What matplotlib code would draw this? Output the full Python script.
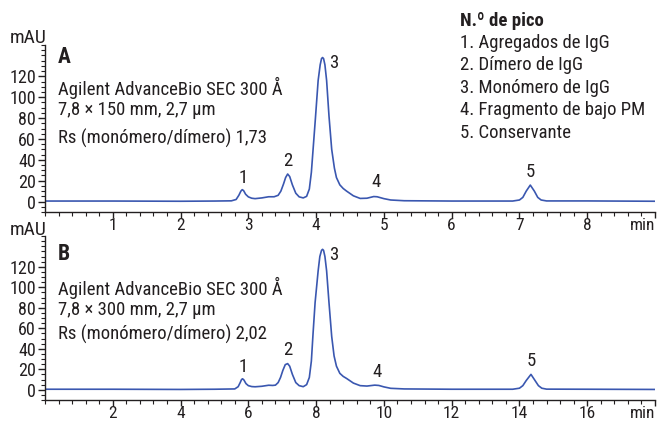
import matplotlib
matplotlib.use("Agg")
import matplotlib.pyplot as plt
from matplotlib.ticker import MultipleLocator, FixedLocator
from matplotlib import font_manager

# ---------------- data ----------------
time_a = [0.0, 1.0, 2.0, 2.5, 2.75, 2.82, 2.86, 2.89, 2.91, 2.93, 2.96, 3.0, 3.05, 3.1, 3.2, 3.3, 3.38,
          3.44, 3.48, 3.52, 3.55, 3.58, 3.61, 3.65, 3.7, 3.75, 3.81, 3.86, 3.9, 3.93, 3.96, 3.99, 4.03,
          4.06, 4.08, 4.095, 4.11, 4.13, 4.155, 4.19, 4.23, 4.27, 4.30, 4.35, 4.40, 4.45, 4.55, 4.65,
          4.75, 4.85, 4.9, 5.0, 5.1, 5.3, 6.0, 6.9, 7.0, 7.05, 7.1, 7.16, 7.22, 7.27, 7.32, 7.4, 8.0, 9.0]
abs_a = [0.5, 0.5, 0.3, 0.5, 0.7, 2, 6, 10, 11.4, 10.5, 7, 4.5, 3.2, 2.8, 3.5, 4.6, 4.6,
         6, 10, 17, 23, 26.4, 24, 16, 8, 4.5, 3.5, 5, 12, 28, 54, 80, 116,
         131, 137, 138, 137, 131, 116, 82, 50, 32, 23, 16, 12.5, 10, 5.5, 3,
         3.2, 4.8, 4.6, 2.8, 1.5, 0.8, 0.5, 0.5, 1.5, 4, 10, 15.8, 10, 4, 1.5, 0.6, 0.6, 0.3]

time_b = [0.0, 2.0, 4.0, 5.0, 5.6, 5.7, 5.76, 5.8, 5.83, 5.87, 5.93, 6.0, 6.1, 6.2, 6.4, 6.6, 6.72,
          6.8, 6.88, 6.95, 7.02, 7.09, 7.16, 7.22, 7.3, 7.4, 7.5, 7.62, 7.72, 7.8, 7.86, 7.91, 7.97,
          8.06, 8.11, 8.16, 8.19, 8.22, 8.26, 8.31, 8.38, 8.46, 8.53, 8.60, 8.70, 8.80, 8.90, 9.10,
          9.30, 9.5, 9.73, 9.85, 10.0, 10.2, 10.6, 12.0, 13.8, 14.0, 14.1, 14.2, 14.34, 14.46, 14.56,
          14.66, 14.8, 16.0, 18.0]
abs_b = [0.5, 0.5, 0.3, 0.5, 0.8, 3, 7, 10, 10.7, 9.5, 6, 4, 3.1, 2.9, 3.4, 4.4, 4.2,
         4.5, 7, 12, 19, 24.5, 25.5, 23, 15, 7, 4, 3, 5, 12, 28, 55, 85,
         116, 130, 136, 137, 136, 130, 116, 85, 52, 33, 23, 16, 13, 11, 6.5,
         4, 3.6, 4.5, 4.2, 2.8, 1.4, 0.8, 0.5, 0.5, 1.5, 4, 9, 15, 9, 4,
         1.5, 0.6, 0.5, 0.3]

peak_ids = ["1", "2", "3", "4", "5"]
label_pos_a = [(2.93, 23), (3.58, 39), (4.26, 133), (4.89, 19), (7.16, 28)]
label_pos_b = [(5.86, 22), (7.17, 39), (8.52, 131), (9.79, 17), (14.34, 28)]

yticks = [0, 20, 40, 60, 80, 100, 120]
xticks_a = [1, 2, 3, 4, 5, 6, 7, 8, 9]
xlabels_a = ["1", "2", "3", "4", "5", "6", "7", "8", "min"]
xticks_b = [2, 4, 6, 8, 10, 12, 14, 16, 18]
xlabels_b = ["2", "4", "6", "8", "10", "12", "14", "16", "min"]

text_a = ["Agilent AdvanceBio SEC 300 Å", "7,8 × 150 mm, 2,7 µm", "Rs (monómero/dímero) 1,73"]
text_b = ["Agilent AdvanceBio SEC 300 Å", "7,8 × 300 mm, 2,7 µm", "Rs (monómero/dímero) 2,02"]
legend_title = "N.º de pico"
legend_items = ["1. Agregados de IgG", "2. Dímero de IgG", "3. Monómero de IgG",
                "4. Fragmento de bajo PM", "5. Conservante"]

# ---------------- style ----------------
names = {f.name for f in font_manager.fontManager.ttflist}
fam = "DejaVu Sans"
for cand in ["Liberation Sans Narrow", "Roboto Condensed", "Open Sans Condensed", "Liberation Sans"]:
    if cand in names:
        fam = cand
        break
plt.rcParams["font.family"] = [fam, "DejaVu Sans"]

W, H = 662, 422
fig = plt.figure(figsize=(W / 100, H / 100), dpi=100)
LINE = "#3a57b0"
TXT = "#231f20"
FS = 13.5
YFS = 13
XFS = 12.5


def px(x, y):
    return x / W, 1 - y / H


def make_axes(top, bottom, t, a, xmax, xticks, xlabels, xminor, labels):
    ax = fig.add_axes([45 / W, 1 - bottom / H, 610 / W, (bottom - top) / H])
    ax.plot(t, a, color=LINE, lw=1.2)
    ax.set_xlim(0, xmax)
    ax.set_ylim(-10, 150)
    for s in ["top", "right"]:
        ax.spines[s].set_visible(False)
    for s in ["left", "bottom"]:
        ax.spines[s].set_linewidth(1.0)
        ax.spines[s].set_color(TXT)
    ax.xaxis.set_major_locator(FixedLocator(xticks))
    ax.set_xticklabels(xlabels)
    ax.get_xticklabels()[-1].set_horizontalalignment("right")
    ax.xaxis.set_minor_locator(MultipleLocator(xminor))
    ax.yaxis.set_major_locator(FixedLocator(yticks))
    ax.yaxis.set_minor_locator(MultipleLocator(5))
    ax.tick_params(which="major", direction="out", length=5, width=1.0, color=TXT,
                   labelcolor=TXT)
    ax.tick_params(axis="x", which="major", length=4, pad=0.5, labelsize=XFS)
    ax.tick_params(axis="y", which="major", pad=1.5, labelsize=YFS)
    ax.tick_params(which="minor", direction="out", length=3, width=0.8, color=TXT)
    for pid, (x, y) in zip(peak_ids, labels):
        ax.text(x, y, pid, ha="center", va="center", fontsize=FS, color=TXT)
    return ax


axA = make_axes(45, 212, time_a, abs_a, 9, xticks_a, xlabels_a, 0.2, label_pos_a)
axB = make_axes(236, 400, time_b, abs_b, 18, xticks_b, xlabels_b, 0.4, label_pos_b)

fig.text(*px(10, 38), "mAU", fontsize=14, color=TXT, ha="left", va="center")
fig.text(*px(10, 230), "mAU", fontsize=14, color=TXT, ha="left", va="center")

fig.text(*px(58, 57), "A", fontsize=15.5, fontweight="bold", color=TXT, ha="left", va="center")
for s, y in zip(text_a, [88, 110, 138]):
    fig.text(*px(58, y), s, fontsize=FS, color=TXT, ha="left", va="center")
fig.text(*px(58, 254), "B", fontsize=15.5, fontweight="bold", color=TXT, ha="left", va="center")
for s, y in zip(text_b, [288, 310, 334]):
    fig.text(*px(58, y), s, fontsize=FS, color=TXT, ha="left", va="center")

fig.text(*px(460, 21), legend_title, fontsize=FS, fontweight="bold", color=TXT, ha="left", va="center")
for s, y in zip(legend_items, [43, 65, 88, 110, 133]):
    fig.text(*px(460, y), s, fontsize=FS, color=TXT, ha="left", va="center")

fig.savefig("out.png", dpi=100)
